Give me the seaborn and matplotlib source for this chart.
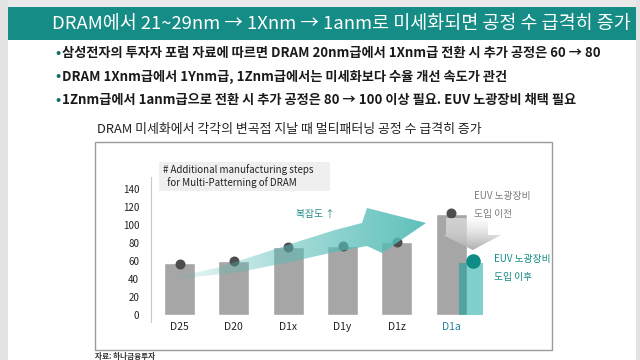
import numpy as np
import matplotlib
matplotlib.use('Agg')
import matplotlib.pyplot as plt
from matplotlib.patches import Rectangle, Polygon
import seaborn as sns

# values
categories = ['D25', 'D20', 'D1x', 'D1y', 'D1z', 'D1a']
bar_values = [58, 60, 76, 77, 81, 113]
dot_values = [57, 60, 76, 77, 81, 114]
euv_bar = 58
euv_dot = 60
y_ticks = [0, 20, 40, 60, 80, 100, 120, 140]

headline = 'DRAM에서 21~29nm → 1Xnm → 1anm로 미세화되면 공정 수 급격히 증가'
bullets = ['삼성전자의 투자자 포럼 자료에 따르면 DRAM 20nm급에서 1Xnm급 전환 시 추가 공정은 60 → 80',
           'DRAM 1Xnm급에서 1Ynm급, 1Znm급에서는 미세화보다 수율 개선 속도가 관건',
           '1Znm급에서 1anm급으로 전환 시 추가 공정은 80 → 100 이상 필요. EUV 노광장비 채택 필요']
chart_title = 'DRAM 미세화에서 각각의 변곡점 지날 때 멀티패터닝 공정 수 급격히 증가'
legend_lines = ['# Additional manufacturing steps', '  for Multi-Patterning of DRAM']
source = '자료: 하나금융투자'

TEAL = '#168c86'
GRAY_BAR = '#a6a6a6'

sns.set_theme(style='white')
plt.rcParams['font.family'] = ['Noto Sans CJK KR', 'DejaVu Sans']

fig = plt.figure(figsize=(6.4, 3.6), dpi=100)

# background layer in pixel coordinates (y down)
bg = fig.add_axes([0, 0, 1, 1], zorder=0)
bg.set_xlim(0, 640)
bg.set_ylim(360, 0)
bg.axis('off')
bg.add_patch(Rectangle((0, 0), 640, 7, color='#e9e9e9', lw=0))
bg.add_patch(Rectangle((0, 0), 8, 360, color='#e3e3e3', lw=0))
bg.add_patch(Rectangle((636, 0), 4, 360, color='#e3e3e3', lw=0))
bg.add_patch(Rectangle((8, 7), 628, 33, color=TEAL, lw=0))
bg.text(52, 24, headline, color='white', fontsize=13.3, va='center', ha='left')

for i, b in enumerate(bullets):
    y = 53 + i * 23.5
    bg.text(55, y, '•', color='#0e6e6a', fontsize=10, va='center', ha='left', fontweight='bold')
    bg.text(62, y, b, color='#1a1a1a', fontsize=9.5, va='center', ha='left', fontweight='bold')

bg.text(97, 130, chart_title, color='#222222', fontsize=9.3, va='center', ha='left')
bg.add_patch(Rectangle((95, 142), 457, 208, facecolor='white', edgecolor='#9a9a9a', lw=1))
bg.add_patch(Rectangle((159, 162), 171, 29, color='#efefef', lw=0))
bg.text(163, 170, legend_lines[0], color='#222222', fontsize=7, va='center', ha='left')
bg.text(163, 183, legend_lines[1], color='#222222', fontsize=7, va='center', ha='left')
bg.text(95, 356, source, color='#333333', fontsize=5.5, va='center', ha='left', fontweight='bold')

# main chart
ax = fig.add_axes([151 / 640, 38 / 360, 379 / 640, 145 / 360], zorder=1)
ax.set_facecolor('none')
sns.barplot(x=categories, y=bar_values, color=GRAY_BAR, saturation=1, width=0.57, ax=ax, zorder=2)
ax.bar(len(categories) - 1 + 0.37, euv_bar, width=0.44, color='#00a09a', alpha=0.5, lw=0, zorder=3)
ax.scatter(np.arange(len(categories)), dot_values, s=52, color='#4d4d4d', zorder=4, lw=0)
ax.scatter(len(categories) - 1 + 0.4, euv_dot, s=110, color='#0f8c86', zorder=5, lw=0)

ax.set_xlim(-0.525, 6.45)
ax.set_ylim(-7.8, 153.7)
ax.set_yticks(y_ticks)
ax.set_xlabel('')
ax.set_ylabel('')
for s in ['top', 'right', 'bottom']:
    ax.spines[s].set_visible(False)
ax.spines['left'].set_color('#c8c8c8')
ax.spines['left'].set_linewidth(0.8)
ax.tick_params(axis='y', length=0, pad=8.5, labelsize=7, labelcolor='#222222')
ax.tick_params(axis='x', length=0, pad=0, labelsize=7.5, labelcolor='#222222')
ax.get_xticklabels()[-1].set_color('#23849a')

# overlay layer: gradient arrows and notes
ov = fig.add_axes([0, 0, 1, 1], zorder=3)
ov.axis('off')

big = Polygon([(176, 277), (220, 267), (260, 254), (300, 241), (335, 230), (362, 223),
               (367, 208), (426, 223), (382, 253), (367, 246),
               (330, 253), (290, 262), (240, 272), (176, 279)],
              closed=True, facecolor='none', edgecolor='none')
ov.add_patch(big)
n = 256
grad = np.zeros((1, n, 4))
grad[..., 0], grad[..., 1], grad[..., 2] = 0.33, 0.74, 0.72
grad[0, :, 3] = np.linspace(0.05, 0.92, n) ** 0.8
im = ov.imshow(grad, extent=(176, 426, 279, 208), aspect='auto', interpolation='bilinear')
im.set_clip_path(big)

down = Polygon([(446, 218), (488, 218), (488, 235), (501, 235), (472.7, 250),
                (443, 235), (446, 235)], closed=True, facecolor='none', edgecolor='none')
ov.add_patch(down)
vg = np.zeros((n, 1, 4))
vg[..., :3] = np.linspace(0.98, 0.68, n)[:, None, None]
vg[..., 3] = np.linspace(0.5, 1.0, n)[:, None]
im2 = ov.imshow(vg, extent=(443, 501, 250, 218), aspect='auto', interpolation='bilinear')
im2.set_clip_path(down)

ov.text(315, 214, '복잡도 ↑', color='#1a8a88', fontsize=7, ha='center', va='center')
ov.text(474, 196, 'EUV 노광장비', color='#7a7a7a', fontsize=7, ha='left', va='center')
ov.text(474, 214, '도입 이전', color='#7a7a7a', fontsize=7, ha='left', va='center')
ov.text(494, 259, 'EUV 노광장비', color='#138a85', fontsize=7, ha='left', va='center')
ov.text(494, 277, '도입 이후', color='#138a85', fontsize=7, ha='left', va='center')
ov.set_xlim(0, 640)
ov.set_ylim(360, 0)

fig.savefig('out.png', dpi=100)
